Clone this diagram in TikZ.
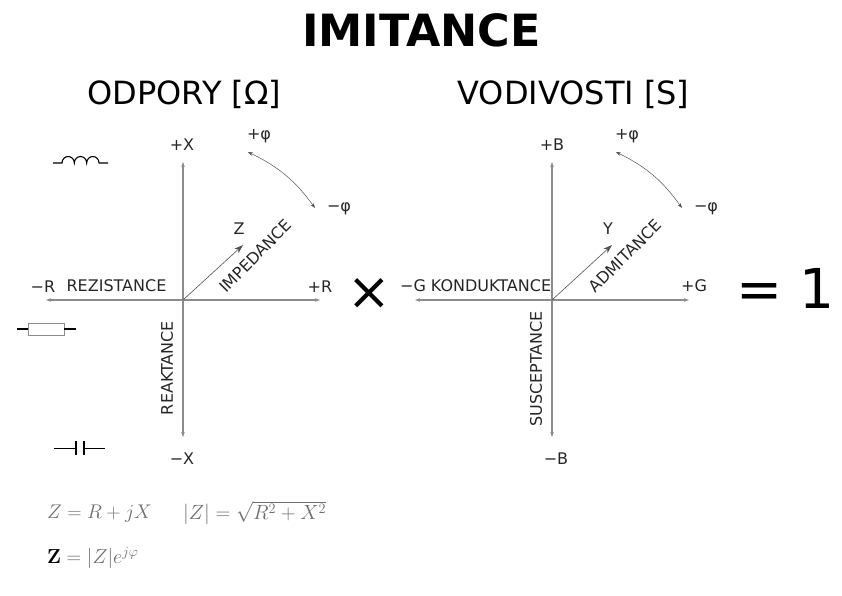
\documentclass[tikz,border=0pt]{standalone}
\usepackage{amsmath,amssymb}
\usepackage{graphicx}
\usepackage[no-math]{fontspec}
\usepackage{tikz}
\usetikzlibrary{arrows.meta, positioning}
\newfontfamily\labelfont{DejaVu Sans}
\definecolor{imgray}{HTML}{8C8C8C}
\definecolor{imtext}{HTML}{262626}
\definecolor{immath}{HTML}{6E6E6E}

\begin{document}
\begin{tikzpicture}[x=1pt, y=-1pt,
  titulek/.style={inner sep=0pt, text=black, font=\labelfont\fontsize{44.4}{45}\selectfont\bfseries},
  nadpis/.style={inner sep=0pt, text=black, font=\labelfont\fontsize{32}{33}\selectfont},
  popis/.style={inner sep=0pt, text=imtext, font=\labelfont\fontsize{16}{16}\selectfont},
  vzorec/.style={inner sep=0pt, anchor=west, text=immath, font=\fontsize{17.28}{20}\selectfont},
  osa/.style={-{Stealth[length=5pt, width=3.5pt]}, imgray, line width=1.1pt},
  fazor/.style={-{Stealth[length=9pt, width=6pt]}, imtext!80, line width=0.6pt},
  oblouk/.style={{Stealth[length=5pt, width=3.5pt]}-{Stealth[length=5pt, width=3.5pt]}, imtext!80, line width=0.5pt},
  soucastka/.style={black, line width=1.1pt}]
\useasboundingbox (0,0) rectangle (842,595);

\node[titulek] (title) at (421.5,30) {IMITANCE};
\node[nadpis] (odpory) at (184.5,94) {ODPORY [Ω]};
\node[nadpis] (vodivosti) at (573.5,94) {VODIVOSTI [S]};

% odpory
\coordinate (o1) at (183,300);
\coordinate (x1up) at (183,162);
\coordinate (x1dn) at (183,437);
\coordinate (r1lf) at (46,300);
\coordinate (r1rt) at (320,300);
\coordinate (z1) at (243,245);
\coordinate (f1a) at (248,152);
\coordinate (f1b) at (315,208);
\draw[osa] (o1)--(x1up); \draw[osa] (o1)--(x1dn);
\draw[osa] (o1)--(r1lf); \draw[osa] (o1)--(r1rt);
\draw[fazor] (o1)--(z1);
\draw[oblouk] (f1a) to[bend left=14] (f1b);
\node[popis] (px) at (182,145) {+X};
\node[popis] (mx) at (182,459) {−X};
\node[popis] (mr) at (43,287) {−R};
\node[popis] (pr) at (320,287) {+R};
\node[popis] (zz) at (239,229) {Z};
\node[popis] (pf1) at (259,136) {+φ};
\node[popis] (mf1) at (339,208.5) {−φ};
\node[popis] (rezist) at (116.5,286) {REZISTANCE};
\node[popis, rotate=90] (reakt) at (167,368) {REAKTANCE};
\node[popis, rotate=45] (imped) at (255.5,256) {IMPEDANCE};

% vodivosti
\coordinate (o2) at (552,300);
\coordinate (x2up) at (552,162);
\coordinate (x2dn) at (552,437);
\coordinate (g2lf) at (415,300);
\coordinate (g2rt) at (689,300);
\coordinate (y2) at (612,245);
\coordinate (f2a) at (616,152);
\coordinate (f2b) at (682,208);
\draw[osa] (o2)--(x2up); \draw[osa] (o2)--(x2dn);
\draw[osa] (o2)--(g2lf); \draw[osa] (o2)--(g2rt);
\draw[fazor] (o2)--(y2);
\draw[oblouk] (f2a) to[bend left=14] (f2b);
\node[popis] (pb) at (552,145) {+B};
\node[popis] (mb) at (556,459) {−B};
\node[popis] (mg) at (413,286) {−G};
\node[popis] (pg) at (694,286) {+G};
\node[popis] (yy) at (608,229) {Y};
\node[popis] (pf2) at (627,136) {+φ};
\node[popis] (mf2) at (706,208.5) {−φ};
\node[popis] (kondukt) at (491,286) {KONDUKTANCE};
\node[popis, rotate=90] (suscept) at (536,369) {SUSCEPTANCE};
\node[popis, rotate=45] (admit) at (625,256) {ADMITANCE};

% krat a vysledek
\node[inner sep=0pt, font=\labelfont\fontsize{52}{52}\selectfont] (krat) at (369,294) {×};
\node[inner sep=0pt, font=\labelfont\fontsize{55}{55}\selectfont] (vysl) at (785.5,288) {= 1};

% soucastky
\coordinate (l1) at (53,163); \coordinate (l2) at (108,163);
\draw[soucastka] (l1)--++(9,0) arc (180:360:6.17 and 6.5) arc (180:360:6.17 and 6.5) arc (180:360:6.17 and 6.5)--(l2);
\coordinate (r1) at (17,329); \coordinate (r2) at (76,329);
\node[draw=imgray, line width=0.9pt, minimum width=36pt, minimum height=12pt, inner sep=0pt] (odpor) at (46,329) {};
\draw[soucastka] (r1)--(odpor.west); \draw[soucastka] (odpor.east)--(r2);
\coordinate (c1) at (54,448); \coordinate (c2) at (105,448);
\coordinate (c1a) at (76,448); \coordinate (c2a) at (84,448);
\draw[soucastka, line width=0.7pt] (c1)--(c1a); \draw[soucastka, line width=0.7pt] (c2a)--(c2);
\draw[black, line width=1.8pt] (76,441)--(76,455); \draw[black, line width=1.8pt] (84,441)--(84,455);

% vzorce
\node[vzorec] (eq1) at (47,514) {\scalebox{1.145}{$Z = R + jX$}};
\node[vzorec] (eq2) at (183,513) {\scalebox{1.19}{$|Z| = \sqrt{R^2 + X^2}$}};
\node[vzorec] (eq3) at (47,558) {\scalebox{1.17}{$\textcolor{black}{\mathbf{Z}} = |Z|e^{j\varphi}$}};
\end{tikzpicture}
\end{document}
